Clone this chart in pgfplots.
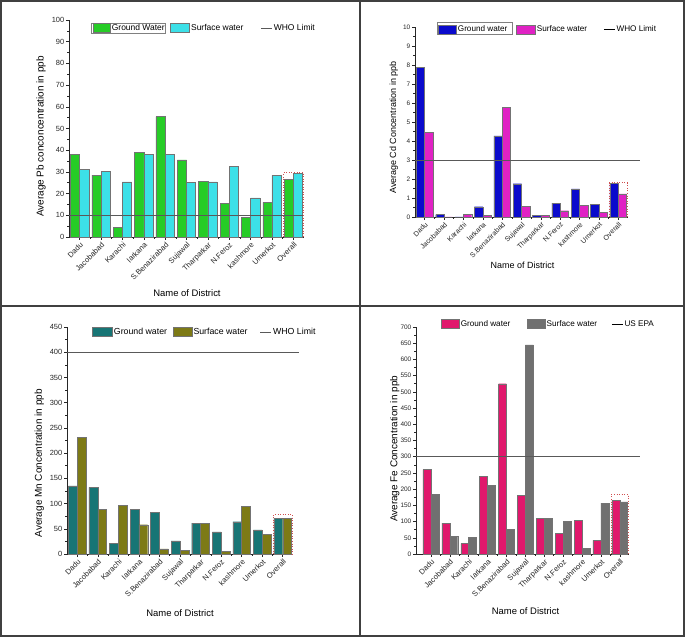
\documentclass[border=0pt]{standalone}
\usepackage{fontspec}
\setmainfont{Liberation Sans}
\usepackage{pgfplots}
\pgfplotsset{compat=1.18}

\definecolor{gG}{HTML}{26CC26}
\definecolor{gS}{HTML}{3CE0E8}
\definecolor{cG}{HTML}{0A0ACC}
\definecolor{cS}{HTML}{E022C4}
\definecolor{mG}{HTML}{177575}
\definecolor{mS}{HTML}{7D7A16}
\definecolor{fG}{HTML}{E0186C}
\definecolor{fS}{HTML}{707070}
\definecolor{boxred}{HTML}{D05050}

\pgfplotsset{
  barlegend/.style={legend image code/.code={\draw[##1] (0bp,-4.5bp) rectangle (#1,4.5bp);}},
  barlegend/.default=17bp,
  linelegend/.style={legend image code/.code={\draw[##1] (0bp,0bp) -- (11bp,0bp);}},
  nolegendline/.style={legend image code/.code={\path (0bp,0bp) -- (11bp,0bp);}},
  panel/.style={
    scale only axis, axis lines=left,
    axis line style={-, black!85, line width=0.6bp},
    tick align=outside, major tick length=3bp, minor tick length=1.6bp,
    every tick/.style={black!85, line width=0.5bp},
    xtick={0,...,10},
    xticklabels={Dadu,Jacobabad,Karachi,larkana,S.Benazirabad,Sujawal,Tharparkar,N.Feroz,kashmore,Umerkot,Overall},
    minor x tick num=1, minor y tick num=1,
    x tick label style={rotate=45, anchor=north east, font=\fontsize{7.6}{8.5}\selectfont, inner sep=1bp, text=black!85},
    y tick label style={font=\fontsize{7.5}{8.5}\selectfont, inner sep=1.5bp, text=black!85},
    /pgf/number format/assume math mode=true,
    ymin=0, clip=false,
    legend columns=3, legend cell align=left,
    legend style={draw=none, fill=none, inner sep=0pt, outer sep=0pt,
      font=\fontsize{8.5}{10}\selectfont, anchor=west,
      nodes={inner sep=1.5bp},
      /tikz/every even column/.append style={column sep=4bp}},
    every axis y label/.style={rotate=90, anchor=center, font=\fontsize{10}{12}\selectfont},
    every axis x label/.style={anchor=center, font=\fontsize{9.5}{11}\selectfont},
  },
  gbar/.style={ybar, bar width=0.43, bar shift=-0.215, draw=black!55, line width=0.4bp},
  sbar/.style={ybar, bar width=0.43, bar shift=0.215, draw=black!55, line width=0.4bp},
  box/.style={forget plot, sharp plot, dotted, draw=boxred, line width=0.6bp},
  limit/.style={sharp plot, draw=black!65, line width=0.5bp, linelegend},
}

\begin{document}
\begin{tikzpicture}
\useasboundingbox (0,0) rectangle (685bp,637bp);
\draw[black!75, line width=1.2bp] (1bp,1bp) rectangle (684bp,636bp);
\draw[black!75, line width=1.2bp] (360bp,1bp) -- (360bp,636bp);
\draw[black!75, line width=1.2bp] (1bp,331bp) -- (684bp,331bp);
% frames around the first legend entries
\draw[black!50, line width=0.5bp] (91bp,604bp) rectangle (165bp,614bp);
\draw[black!50, line width=0.5bp] (437bp,602.5bp) rectangle (512bp,614.5bp);

% ---------- Pb ----------
\begin{axis}[panel, at={(69bp,400bp)}, anchor=south west,
  width=235bp, height=217bp, xmin=-0.5, xmax=10.5, ymax=100,
  ytick={0,10,...,100},
  ylabel={Average Pb conconcentration in ppb},
  ylabel style={at={(axis description cs:-0.119,0.463)}},
  xlabel={Name of District},
  xlabel style={at={(axis description cs:0.502,-0.257)}},
  legend style={at={(axis description cs:0.102,0.963)}}]
\addplot[gbar, fill=gG, barlegend] coordinates {(0,38) (1,28.5) (2,4.5) (3,39) (4,55.5) (5,35.5) (6,25.5) (7,15.5) (8,9) (9,16) (10,26.7)};
\addlegendentry{Ground Water}
\addplot[sbar, fill=gS, barlegend=19bp] coordinates {(0,31.3) (1,30.2) (2,25.4) (3,38.2) (4,38) (5,25.1) (6,25.4) (7,32.4) (8,18) (9,28.4) (10,29.3)};
\addlegendentry{Surface water\rule{12bp}{0pt}}
\addplot[limit] coordinates {(-0.5,10) (10.5,10)};
\addlegendentry{WHO Limit}
\addplot[box] coordinates {(9.54,0) (9.54,29.8) (10.46,29.8) (10.46,0)};
\end{axis}

% ---------- Cd ----------
\begin{axis}[panel, at={(415bp,420bp)}, anchor=south west,
  width=213bp, height=190bp, xmin=-0.5, xmax=10.5, ymax=10,
  ytick={0,1,...,10},
  y tick label style={font=\fontsize{6.5}{7.5}\selectfont},
  x tick label style={font=\fontsize{7.1}{8}\selectfont},
  ylabel={Average Cd Concentration in ppb},
  ylabel style={at={(axis description cs:-0.099,0.471)}, font=\fontsize{9}{11}\selectfont},
  xlabel={Name of District},
  xlabel style={at={(axis description cs:0.505,-0.256)}, font=\fontsize{9}{11}\selectfont},
  legend style={at={(axis description cs:0.108,0.987)}, font=\fontsize{8.2}{10}\selectfont}]
\addplot[gbar, fill=cG, barlegend=18bp] coordinates {(0,7.88) (1,0.13) (2,0) (3,0.54) (4,4.27) (5,1.75) (6,0.08) (7,0.73) (8,1.48) (9,0.67) (10,1.76)};
\addlegendentry{Ground water\rule{3bp}{0pt}}
\addplot[sbar, fill=cS, barlegend=19bp] coordinates {(0,4.47) (1,0) (2,0.14) (3,0.07) (4,5.78) (5,0.56) (6,0.09) (7,0.33) (8,0.6) (9,0.25) (10,1.22)};
\addlegendentry{Surface water\rule{11bp}{0pt}}
\addplot[limit, forget plot] coordinates {(-0.5,3) (11.1,3)};
\addlegendimage{nolegendline}
\addlegendentry{WHO Limit}
\addplot[box] coordinates {(9.54,0) (9.54,1.8) (10.46,1.8) (10.46,0)};
\end{axis}

% ---------- Mn ----------
\begin{axis}[panel, at={(67bp,83bp)}, anchor=south west,
  width=226bp, height=227bp, xmin=-0.5, xmax=10.5, ymax=450,
  ytick={0,50,...,450},
  ylabel={Average Mn Concentration in ppb},
  ylabel style={at={(axis description cs:-0.123,0.40)}},
  xlabel={Name of District},
  xlabel style={at={(axis description cs:0.50,-0.26)}},
  legend style={at={(axis description cs:0.111,0.978)}, font=\fontsize{8.8}{10}\selectfont}]
\addplot[gbar, fill=mG, barlegend=20bp] coordinates {(0,135) (1,132) (2,21) (3,88) (4,83) (5,26) (6,61) (7,44) (8,64) (9,48) (10,71)};
\addlegendentry{Ground water}
\addplot[sbar, fill=mS, barlegend=19bp] coordinates {(0,231) (1,89) (2,97) (3,58) (4,10) (5,7) (6,61) (7,5) (8,94) (9,39) (10,70)};
\addlegendentry{Surface water\rule{7bp}{0pt}}
\addplot[limit] coordinates {(-0.5,400) (10.78,400)};
\addlegendentry{WHO Limit}
\addplot[box] coordinates {(9.54,0) (9.54,79) (10.46,79) (10.46,0)};
\end{axis}

% ---------- Fe ----------
\begin{axis}[panel, at={(416bp,83bp)}, anchor=south west,
  width=213bp, height=227bp, xmin=-0.79, xmax=10.49, ymax=700,
  ytick={0,50,...,700},
  y tick label style={font=\fontsize{6.5}{7.5}\selectfont},
  ylabel={Average Fe Concentration in ppb},
  ylabel style={at={(axis description cs:-0.099,0.463)}},
  xlabel={Name of District},
  xlabel style={at={(axis description cs:0.514,-0.253)}},
  legend style={at={(axis description cs:0.117,1.013)}, font=\fontsize{8.2}{10}\selectfont}]
\addplot[gbar, bar width=0.42, bar shift=-0.21, fill=fG, barlegend=18bp] coordinates {(0,260) (1,95) (2,32) (3,240) (4,525) (5,181) (6,111) (7,63) (8,104) (9,42) (10,166)};
\addlegendentry{Ground water\rule{11bp}{0pt}}
\addplot[sbar, bar width=0.42, bar shift=0.21, fill=fS, barlegend=18bp] coordinates {(0,183) (1,55) (2,52) (3,211) (4,76) (5,645) (6,111) (7,101) (8,17) (9,157) (10,161)};
\addlegendentry{Surface water\rule{9bp}{0pt}}
\addplot[limit, forget plot] coordinates {(-0.79,300) (11.08,300)};
\addlegendimage{nolegendline}
\addlegendentry{US EPA}
\addplot[box] coordinates {(9.54,0) (9.54,183) (10.46,183) (10.46,0)};
\end{axis}
\end{tikzpicture}
\end{document}
